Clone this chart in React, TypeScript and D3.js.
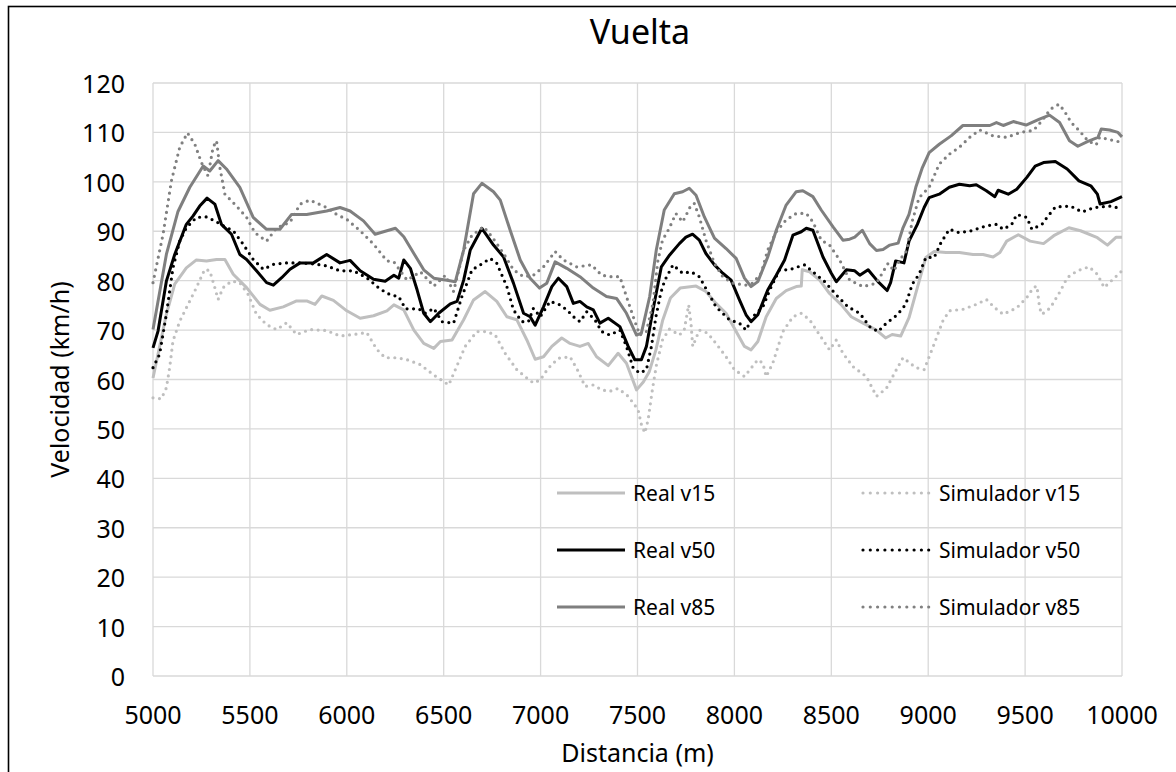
import React from "react";
import * as d3 from "d3";

type Pt = [number, number];

const xTicks = [5000, 5500, 6000, 6500, 7000, 7500, 8000, 8500, 9000, 9500, 10000];
const yTicks = [0, 10, 20, 30, 40, 50, 60, 70, 80, 90, 100, 110, 120];

const realV15: Pt[] = [[5000,60.3],[5069,73.2],[5112,79.3],[5172,82.6],[5224,84.2],[5276,84],[5328,84.3],[5371,84.3],[5414,81.3],[5483,78.6],[5552,75.2],[5603,74],[5672,74.7],[5741,75.9],[5793,75.9],[5836,75.2],[5871,76.9],[5931,76],[6000,73.9],[6069,72.4],[6138,72.9],[6207,73.9],[6243,75.1],[6294,74.1],[6346,70],[6397,67.3],[6449,66.3],[6483,67.7],[6543,68],[6603,72.1],[6654,76.1],[6714,77.8],[6774,75.8],[6826,72.7],[6877,72.1],[6929,68],[6972,64.1],[7015,64.6],[7058,66.7],[7109,68.4],[7152,67.3],[7203,66.7],[7246,67.3],[7289,64.6],[7349,62.8],[7400,65.3],[7443,63.3],[7495,57.9],[7530,59.5],[7560,61.5],[7595,66],[7630,72],[7670,76.5],[7720,78.5],[7802,78.9],[7853,77.8],[7905,75.4],[7957,73.4],[8009,69.7],[8052,66.7],[8086,66],[8121,67.7],[8164,72.7],[8216,76.4],[8267,78],[8319,78.8],[8345,78.9],[8350,82.2],[8388,81.8],[8440,80.1],[8491,77.4],[8552,75.1],[8603,72.7],[8664,71.4],[8733,70],[8780,68.4],[8814,69.1],[8858,68.8],[8901,72.5],[8944,78.6],[8988,84.7],[9031,85.9],[9092,85.7],[9161,85.7],[9231,85.3],[9283,85.3],[9335,84.8],[9370,85.7],[9405,88],[9465,89.3],[9526,88],[9595,87.5],[9648,89.1],[9726,90.7],[9786,90.1],[9873,88.7],[9925,87.2],[9970,88.8],[10000,88.8]];

const realV50: Pt[] = [[5000,66.4],[5026,69.8],[5069,79.9],[5112,85.3],[5172,91.4],[5207,93.1],[5241,95.1],[5279,96.7],[5319,95.5],[5353,91.4],[5405,89.4],[5448,85.3],[5483,84.3],[5534,82],[5586,79.6],[5621,79.1],[5664,80.6],[5707,82.3],[5759,83.6],[5828,83.6],[5896,85.3],[5965,83.6],[6017,84.1],[6069,82],[6138,80.3],[6198,79.9],[6243,81.1],[6268,80.5],[6294,84.2],[6328,82.5],[6363,78.1],[6397,73.4],[6431,71.7],[6474,73.4],[6534,75.3],[6569,75.8],[6603,80.1],[6637,86.2],[6697,90.6],[6757,87.2],[6809,84.8],[6860,79.5],[6912,73.4],[6946,72.7],[6972,71],[7015,74.7],[7058,78.8],[7092,80.5],[7135,78.8],[7169,75.4],[7203,75.8],[7238,74.7],[7272,74.1],[7306,71.4],[7349,72.4],[7409,70.7],[7452,66.7],[7486,64],[7520,64],[7546,66.7],[7580,74.1],[7623,82.8],[7666,85.2],[7716,87.5],[7750,88.8],[7784,89.4],[7819,88.2],[7853,85.5],[7897,83.2],[7940,81.5],[7983,80.1],[8026,76.1],[8060,73.1],[8086,71.7],[8121,73.1],[8172,78.1],[8216,81.1],[8259,84.2],[8302,89.2],[8345,89.9],[8371,90.6],[8405,90.2],[8457,84.8],[8500,81.5],[8526,79.8],[8578,82.2],[8621,82],[8647,81.1],[8690,82.2],[8741,79.8],[8788,78],[8806,79.6],[8832,84],[8875,83.6],[8901,88],[8944,91.4],[8979,94.8],[9005,96.8],[9057,97.5],[9109,98.9],[9161,99.5],[9214,99.2],[9248,99.4],[9300,98.2],[9344,97],[9361,98.3],[9413,97.5],[9457,98.5],[9509,100.9],[9552,103.2],[9595,103.9],[9656,104.1],[9717,102.6],[9778,100.2],[9839,99.2],[9873,97.5],[9887,95.5],[9943,96],[10000,97]];

const realV85: Pt[] = [[5000,70.1],[5069,85.3],[5129,94],[5190,98.9],[5259,103.2],[5293,102.2],[5336,104.3],[5379,102.6],[5448,98.9],[5517,92.8],[5586,90.4],[5655,90.4],[5715,93.4],[5793,93.4],[5896,94.1],[5965,94.8],[6017,94.1],[6086,92.1],[6146,89.4],[6207,90.1],[6251,90.6],[6294,88.9],[6346,85.5],[6397,82.2],[6449,80.5],[6517,80.1],[6560,79.8],[6603,86.2],[6654,97.6],[6697,99.7],[6757,98],[6792,96.3],[6843,90.2],[6895,84.2],[6946,80.5],[6994,78.5],[7032,79.5],[7075,83.8],[7135,82.5],[7203,80.8],[7272,78.5],[7340,76.8],[7392,76.4],[7443,73.4],[7495,69],[7520,69.4],[7563,76.8],[7597,86.2],[7638,94.3],[7690,97.6],[7733,98],[7767,98.7],[7802,97.3],[7845,92.9],[7897,88.6],[7957,86.5],[8009,84.5],[8052,80.5],[8086,78.8],[8121,79.8],[8172,84.8],[8216,90.2],[8267,95.3],[8319,98],[8353,98.2],[8405,97],[8448,94.3],[8509,90.9],[8560,88.2],[8595,88.4],[8621,88.8],[8660,90.2],[8698,87.5],[8733,86.1],[8767,86.3],[8802,87.2],[8845,87.6],[8870,90.7],[8901,93.4],[8936,98.9],[8970,102.9],[9005,105.9],[9057,107.6],[9118,109.3],[9179,111.4],[9248,111.4],[9318,111.4],[9352,112],[9387,111.4],[9439,112.2],[9505,111.5],[9574,112.7],[9626,113.5],[9678,112],[9729,108.3],[9772,107.2],[9824,108.2],[9876,109],[9893,110.7],[9936,110.5],[9979,110],[10000,109.1]];

const simV15: Pt[] = [[5000,56.3],[5043,56.1],[5069,58.3],[5086,62.4],[5103,67.8],[5138,71.8],[5181,75.2],[5224,78.6],[5267,82.3],[5293,82],[5319,78.6],[5336,76.2],[5362,78.6],[5405,79.9],[5448,79.6],[5491,77.2],[5534,73.2],[5586,71.1],[5638,70.1],[5690,71.5],[5741,69.1],[5810,70.1],[5896,69.9],[5965,68.8],[6034,69.1],[6103,69.5],[6155,66.1],[6198,64.4],[6259,64.4],[6311,64],[6380,63],[6449,60.9],[6526,58.9],[6560,62],[6611,66.7],[6671,69.7],[6723,69.7],[6766,69],[6817,65.3],[6877,62],[6929,60.3],[6963,59.3],[6998,59.9],[7040,62.3],[7092,64.3],[7152,64.6],[7195,61.6],[7229,58.6],[7272,58.9],[7315,57.9],[7357,57.6],[7400,58.2],[7452,56.6],[7503,53.9],[7520,50.9],[7538,49.2],[7555,51.9],[7577,58],[7598,63],[7629,68],[7664,70.2],[7716,69],[7741,70],[7764,75.1],[7776,71.4],[7785,66.7],[7819,70],[7862,69.4],[7905,67.3],[7957,64.6],[8000,62],[8052,60.6],[8086,62.3],[8121,64],[8147,63.3],[8164,60.6],[8198,63.3],[8250,69.7],[8302,72.7],[8345,73.4],[8388,72.1],[8440,69],[8491,66],[8526,68],[8560,65.3],[8612,62.6],[8681,60.6],[8733,56.6],[8784,58.2],[8836,62],[8870,64.4],[8900,63.5],[8936,62.4],[8979,62],[9023,66.4],[9075,71.8],[9109,73.9],[9179,74.2],[9248,75.2],[9300,76.2],[9344,74.5],[9387,73.2],[9457,74.5],[9509,76.6],[9543,78.6],[9561,78.9],[9575,74.5],[9587,73.2],[9630,74.5],[9682,77.9],[9717,80.6],[9769,82],[9830,82.8],[9873,81.3],[9908,78.6],[9943,79.9],[10000,82]];

const simV50: Pt[] = [[5000,62.4],[5034,65.1],[5069,73.2],[5103,82.6],[5138,88],[5172,90.7],[5224,92.8],[5276,92.9],[5319,92.1],[5362,91.1],[5414,90.1],[5465,87.4],[5517,84.3],[5569,82.3],[5621,83.3],[5690,83.6],[5759,83.6],[5828,83.4],[5896,83],[5965,82],[6034,82],[6103,80.6],[6172,78.3],[6226,77.1],[6268,76.8],[6303,74.3],[6371,74.3],[6406,73.4],[6449,74.4],[6491,71.7],[6551,71.4],[6594,76.8],[6646,82.2],[6689,83.2],[6740,84.5],[6774,83.5],[6826,78.8],[6860,74.1],[6903,71.7],[6937,71.7],[6963,74.4],[6998,72.7],[7049,75.8],[7100,75.1],[7135,74.1],[7178,72.4],[7203,71.7],[7238,73.7],[7280,72.1],[7315,69.7],[7357,69],[7409,70],[7443,66.7],[7478,62.3],[7512,61.3],[7546,62],[7572,66.7],[7595,72.7],[7620,77.5],[7640,80],[7683,83.2],[7733,81.5],[7776,81.8],[7819,80.8],[7862,77.8],[7905,74.7],[7974,72.1],[8026,71.4],[8060,70],[8095,72.7],[8147,74.7],[8190,78.8],[8233,82.2],[8284,82.2],[8328,82.8],[8362,83.2],[8414,81.5],[8466,79.8],[8526,77.1],[8586,74.7],[8647,73.4],[8698,70.7],[8741,69.7],[8784,71.4],[8828,72.7],[8849,73.5],[8884,75.2],[8918,79.3],[8953,81.3],[8988,84.7],[9031,84.7],[9066,87.7],[9109,90.4],[9161,89.7],[9222,90.1],[9300,91.1],[9352,91.4],[9387,90.4],[9431,91.4],[9457,93.4],[9509,92.8],[9535,90.4],[9587,91.4],[9613,92.8],[9656,94.9],[9734,95.1],[9795,93.9],[9856,94.8],[9943,95.1],[10000,94.5]];

const simV85: Pt[] = [[5000,79.6],[5052,89.4],[5095,100.2],[5138,107],[5178,109.9],[5216,107.6],[5250,103.9],[5284,101.2],[5310,107],[5328,108.3],[5345,102.9],[5371,97.5],[5431,95.1],[5483,92.8],[5526,89.7],[5586,88],[5638,90.7],[5707,91.8],[5759,95.5],[5810,96.3],[5896,94.8],[5948,93.4],[6000,92.4],[6069,90.1],[6138,87.4],[6207,84],[6243,83.8],[6311,80.1],[6380,81.8],[6449,78.9],[6509,81.1],[6551,77.8],[6603,86.2],[6646,89.2],[6706,90.9],[6749,88.9],[6809,85.5],[6860,82.2],[6912,80.8],[6963,81.1],[7015,82.8],[7075,85.9],[7117,84.2],[7186,82.8],[7263,83.2],[7315,81.1],[7366,80.8],[7409,80.8],[7443,76.8],[7478,72.7],[7512,69],[7546,69.7],[7580,75.4],[7605,84],[7629,88.2],[7664,90.6],[7698,93.6],[7733,91.9],[7759,93.9],[7776,95.3],[7793,95.6],[7819,92.9],[7853,88.2],[7897,83.5],[7940,80.8],[7991,79.5],[8060,79.1],[8095,79.5],[8138,81.5],[8172,86.2],[8216,89.9],[8267,92.3],[8319,93.6],[8371,93.6],[8405,91.9],[8448,88.2],[8491,87.2],[8543,84.2],[8595,80.1],[8664,78.8],[8733,79.5],[8767,81.8],[8793,83.5],[8823,82],[8853,84.2],[8888,86],[8918,92.1],[8953,96.8],[9005,98.9],[9057,103.6],[9109,105.6],[9161,107],[9214,109],[9266,110.5],[9335,109.3],[9405,109],[9474,110],[9543,110.4],[9590,112.5],[9630,114.7],[9675,115.7],[9703,114.3],[9738,112],[9781,110.3],[9824,108.3],[9867,107.5],[9884,109],[9919,108.7],[9962,108.3],[10000,108]];

interface Series { name: string; data: Pt[]; color: string; dotted: boolean; }

const series: Series[] = [
  { name: "Real v15", data: realV15, color: "#bfbfbf", dotted: false },
  { name: "Simulador v15", data: simV15, color: "#bfbfbf", dotted: true },
  { name: "Real v50", data: realV50, color: "#000000", dotted: false },
  { name: "Simulador v50", data: simV50, color: "#000000", dotted: true },
  { name: "Real v85", data: realV85, color: "#7f7f7f", dotted: false },
  { name: "Simulador v85", data: simV85, color: "#808080", dotted: true },
];

const W = 1176;
const H = 772;
const M = { left: 153, right: 1122, top: 83, bottom: 676 };
const FONT = "'Noto Sans', 'Open Sans', sans-serif";

export default function App() {
  const x = d3.scaleLinear().domain([5000, 10000]).range([M.left, M.right]);
  const y = d3.scaleLinear().domain([0, 120]).range([M.bottom, M.top]);
  const line = d3.line<Pt>().x((d) => x(d[0])).y((d) => y(d[1])).curve(d3.curveLinear);

  const legendRows = [493, 550, 607];
  const legendCols = [557, 863];

  return (
    <svg width={W} height={H} style={{ position: "absolute", left: 0, top: 0, background: "#fff" }}>
      <rect x={0} y={0} width={W} height={H} fill="#fff" />
      <rect x={8.5} y={6.5} width={1400} height={900} fill="none" stroke="#000" strokeWidth={1.6} />
      <text x={640} y={31} textAnchor="middle" dominantBaseline="central" fontFamily={FONT} fontSize={34} fill="#000">Vuelta</text>
      {yTicks.map((t) => (
        <line key={"h" + t} x1={M.left} x2={M.right} y1={y(t)} y2={y(t)} stroke="#d9d9d9" strokeWidth={1.3} />
      ))}
      {xTicks.map((t) => (
        <line key={"v" + t} x1={x(t)} x2={x(t)} y1={M.top} y2={M.bottom} stroke="#d9d9d9" strokeWidth={1.3} />
      ))}
      {yTicks.map((t) => (
        <text key={"yl" + t} x={125} y={y(t)} textAnchor="end" dominantBaseline="central" fontFamily={FONT} fontSize={25} fill="#000">{t}</text>
      ))}
      {xTicks.map((t) => (
        <text key={"xl" + t} x={x(t)} y={714} textAnchor="middle" dominantBaseline="central" fontFamily={FONT} fontSize={25} fill="#000">{t}</text>
      ))}
      <text x={(M.left + M.right) / 2} y={752} textAnchor="middle" dominantBaseline="central" fontFamily={FONT} fontSize={25} fill="#000">Distancia (m)</text>
      <text transform={`translate(59,${(M.top + M.bottom) / 2}) rotate(-90)`} textAnchor="middle" dominantBaseline="central" fontFamily={FONT} fontSize={25} fill="#000">Velocidad (km/h)</text>
      {series.map((s) => (
        <path key={s.name} d={line(s.data) || ""} fill="none" stroke={s.color}
          strokeWidth={s.dotted ? 3.2 : 3}
          strokeDasharray={s.dotted ? "0 6.5" : undefined}
          strokeLinecap={s.dotted ? "round" : "butt"} strokeLinejoin="round" />
      ))}
      {series.map((s, i) => {
        const col = i % 2;
        const row = Math.floor(i / 2);
        const lx = legendCols[col];
        const ly = legendRows[row];
        return (
          <g key={"lg" + s.name}>
            <line x1={lx} x2={lx + 68} y1={ly} y2={ly} stroke={s.color}
              strokeWidth={s.dotted ? 3.2 : 3}
              strokeDasharray={s.dotted ? "0 7.3" : undefined}
              strokeLinecap={s.dotted ? "round" : "butt"} />
            <text x={lx + 76} y={ly} dominantBaseline="central" fontFamily={FONT} fontSize={21} fill="#000">{s.name}</text>
          </g>
        );
      })}
    </svg>
  );
}
